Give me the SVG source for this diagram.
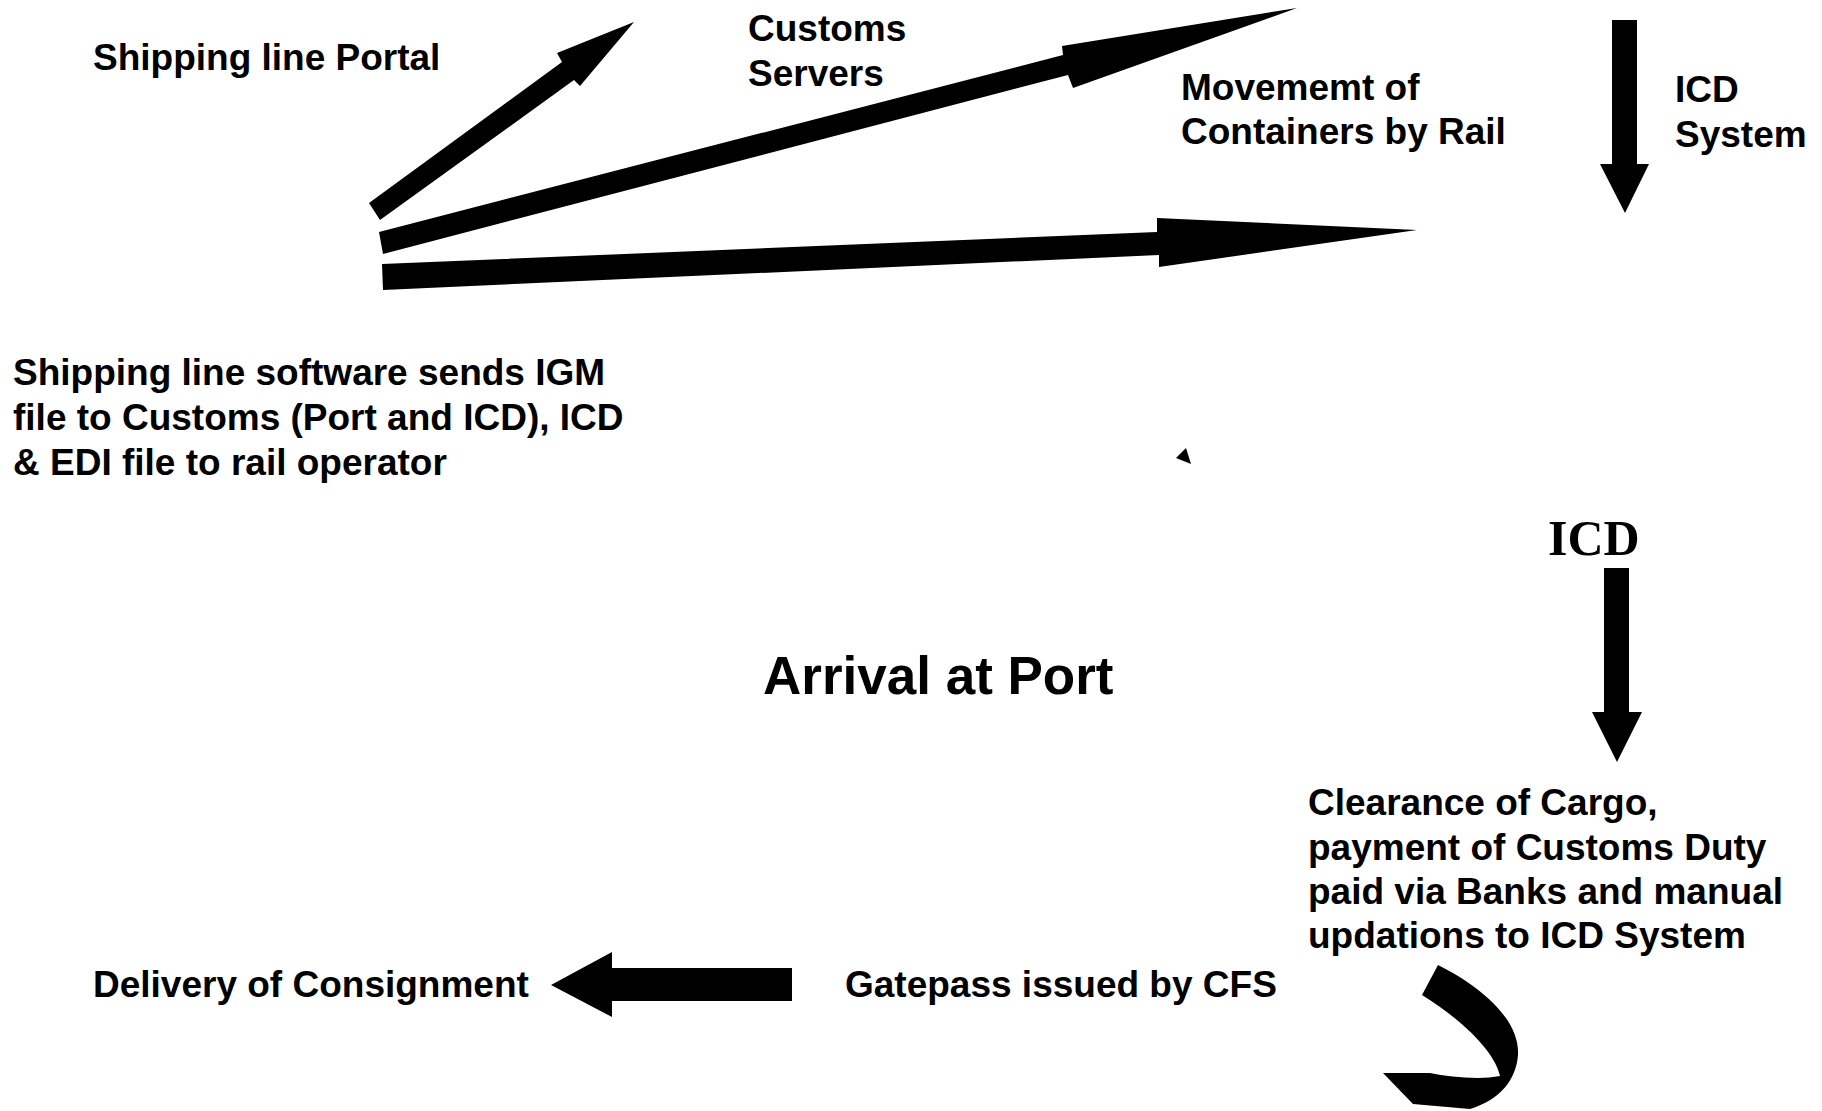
<svg xmlns="http://www.w3.org/2000/svg" width="1822" height="1111" viewBox="0 0 1822 1111">
<style>
.t{font-family:"Liberation Sans",Arial,sans-serif;font-weight:bold;font-size:37px;fill:#000}
.big{font-size:53px}
.serif{font-family:"Liberation Serif","Times New Roman",serif;font-weight:bold;font-size:50px;fill:#000}
.a{fill:#000;stroke:none}
</style>
<rect width="1822" height="1111" fill="#fff"/>
<g id="connectors">
<polygon class="a" points="369,203 562,62 557,53 634,22 580,86 574,80 380,220"/>
<polygon class="a" points="379,232 1063,55 1062,46 1297,8 1073,88 1068,75 383,254"/>
<polygon class="a" points="382,264 1157,232 1157,218 1417,230 1159,267 1159,255 383,290"/>
<polygon class="a" points="1612,20 1637,20 1637,164 1649,164 1625,213 1600,164 1612,164"/>
<polygon class="a" points="1604,568 1629,568 1629,712 1642,712 1617,762 1592,712 1604,712"/>
<polygon class="a" points="1176,458 1186,448 1191,464"/>
<polygon class="a" points="792,968 792,1001 612,1001 612,1017 551,985 612,952 612,968"/>
<path class="a" d="M1438,965 C1482,987 1520,1020 1518,1055 C1516,1080 1500,1100 1470,1109 L1413,1104 L1383,1073 L1430,1073 C1450,1077 1480,1080 1500,1076 C1496,1056 1470,1025 1422,995 Z"/>
</g>
<g id="shipping-portal"><text class="t" x="93" y="70">Shipping line Portal</text></g>
<g id="customs-servers"><text class="t" x="748" y="41">Customs</text><text class="t" x="748" y="86">Servers</text></g>
<g id="movement-rail"><text class="t" x="1181" y="100">Movememt of</text><text class="t" x="1181" y="144">Containers by Rail</text></g>
<g id="icd-system"><text class="t" x="1675" y="102">ICD</text><text class="t" x="1675" y="147">System</text></g>
<g id="shipping-software"><text class="t" x="13" y="385">Shipping line software sends IGM</text><text class="t" x="13" y="430">file to Customs (Port and ICD), ICD</text><text class="t" x="13" y="475">&amp; EDI file to rail operator</text></g>
<g id="icd"><text class="serif" x="1548" y="555">ICD</text></g>
<g id="arrival"><text class="t big" x="763" y="694">Arrival at Port</text></g>
<g id="clearance"><text class="t" x="1308" y="815">Clearance of Cargo,</text><text class="t" x="1308" y="860">payment of Customs Duty</text><text class="t" x="1308" y="904">paid via Banks and manual</text><text class="t" x="1308" y="948">updations to ICD System</text></g>
<g id="delivery"><text class="t" x="93" y="997">Delivery of Consignment</text></g>
<g id="gatepass"><text class="t" x="845" y="997">Gatepass issued by CFS</text></g>
</svg>
